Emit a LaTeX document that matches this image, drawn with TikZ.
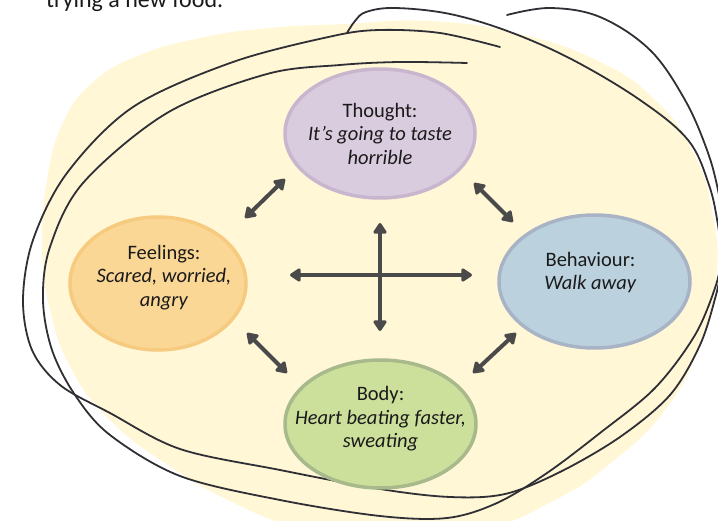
\documentclass[tikz,border=0pt]{standalone}
\usepackage{fontspec}
\setmainfont{Carlito}
\usetikzlibrary{arrows.meta,shapes.geometric}

\definecolor{paper}{HTML}{FFF7D6}
\definecolor{pen}{HTML}{2F2F35}
\definecolor{ink}{HTML}{1A1A1A}
\definecolor{arrowgray}{HTML}{4A4A4A}
\definecolor{thoughtfill}{HTML}{DACCDF}
\definecolor{thoughtedge}{HTML}{C8B5CE}
\definecolor{feelfill}{HTML}{FBD795}
\definecolor{feeledge}{HTML}{F6CB80}
\definecolor{behavefill}{HTML}{BBD2DE}
\definecolor{behaveedge}{HTML}{A8B3C5}
\definecolor{bodyfill}{HTML}{CCDF9B}
\definecolor{bodyedge}{HTML}{A8B98B}

\begin{document}
\begin{tikzpicture}[x=1pt,y=-1pt,
  bubble/.style={ellipse, line width=3.5pt, inner sep=0pt},
  caption/.style={align=center, text=ink, font=\fontsize{20.5}{23.5}\selectfont},
  scribble/.style={draw=pen, line width=1.8pt, line cap=round, line join=round},
  link/.style={draw=arrowgray, line width=4pt,
    {Triangle[width=15pt,length=12pt,round]}-{Triangle[width=15pt,length=12pt,round]}}
]
\useasboundingbox (0,0) rectangle (718,521);
\clip (0,0) rectangle (718,521);

% pale background blob
\fill[paper] plot[smooth cycle, tension=0.8] coordinates {
  (345,24) (430,21) (520,34) (600,62) (655,100) (693,152) (713,215)
  (716,280) (700,345) (665,410) (612,462) (555,500) (480,530) (380,540)
  (300,528) (232,502) (165,463) (110,420) (72,370) (50,310) (42,245)
  (47,180) (62,125) (90,85) (135,57) (200,38) (270,28)};

% heading running in from above
\node[anchor=base west, text=ink, font=\fontsize{24}{28}\selectfont, inner sep=0pt]
  (heading) at (46,8) {trying a new food.};

% hand-drawn loops around the cycle
\draw[scribble] plot[smooth, tension=0.55] coordinates {
  (500,47) (440,33) (380,30) (333,36) (233,62) (133,107) (67,173) (33,240)
  (23,300) (32,350) (60,385) (110,413) (180,449) (280,470) (380,489)
  (450,497) (505,494) (560,472) (620,437) (670,395) (700,345) (716,295)
  (722,265)};
\draw[scribble] plot[smooth, tension=0.55] coordinates {
  (467,63) (400,62) (340,65) (267,74) (167,113) (83,183) (50,247) (43,300)
  (52,350) (75,395) (110,435) (180,476) (280,500) (380,516) (447,518)
  (497,503) (547,473) (600,433) (655,388) (695,335) (716,285) (722,255)};
\draw[scribble] plot[smooth, tension=0.6] coordinates {
  (347,33) (355,21) (366,12) (395,8) (450,14) (510,32) (573,60) (640,100)
  (688,140) (709,185) (718,225) (722,260)};
\draw[scribble] plot[smooth, tension=0.6] coordinates {
  (507,15) (550,8) (600,17) (650,50) (685,100) (707,150) (718,190) (724,230)};

% the four parts of the cycle
\node[bubble, fill=thoughtfill, draw=thoughtedge, minimum width=190pt, minimum height=129pt]
  (thought) at (380,133.5) {};
\node[bubble, fill=feelfill, draw=feeledge, minimum width=176pt, minimum height=133pt]
  (feelings) at (158,283.5) {};
\node[bubble, fill=behavefill, draw=behaveedge, minimum width=191pt, minimum height=133pt]
  (behaviour) at (594.5,281.5) {};
\node[bubble, fill=bodyfill, draw=bodyedge, minimum width=191pt, minimum height=128pt]
  (body) at (380.5,424) {};

\node[caption] (thoughttext) at (thought.center)
  {Thought:\\\textit{It's going to taste}\\\textit{horrible}};
\node[caption] (feelingstext) at ([xshift=6pt,yshift=6pt]feelings.center)
  {Feelings:\\\textit{Scared, worried,}\\\textit{angry}};
\node[caption] (behaviourtext) at ([xshift=-4pt,yshift=9pt]behaviour.center)
  {Behaviour:\\\textit{Walk away}};
\node[caption] (bodytext) at ([yshift=5pt]body.center)
  {Body:\\\textit{Heart beating faster,}\\\textit{sweating}};

% arrow end points
\coordinate (tf1) at (285,179);
\coordinate (tf2) at (245,218);
\coordinate (tb1) at (474,183);
\coordinate (tb2) at (513,222);
\coordinate (fb1) at (247,333);
\coordinate (fb2) at (287,373);
\coordinate (bb1) at (473,373);
\coordinate (bb2) at (516,333);
\coordinate (hl) at (290,275);
\coordinate (hr) at (472,275);
\coordinate (vt) at (380,223);
\coordinate (vb) at (380,331);

\draw[link] (tf1) -- (tf2);
\draw[link] (tb1) -- (tb2);
\draw[link] (fb1) -- (fb2);
\draw[link] (bb1) -- (bb2);
\draw[link] (hl) -- (hr);
\draw[link] (vt) -- (vb);
\end{tikzpicture}
\end{document}
